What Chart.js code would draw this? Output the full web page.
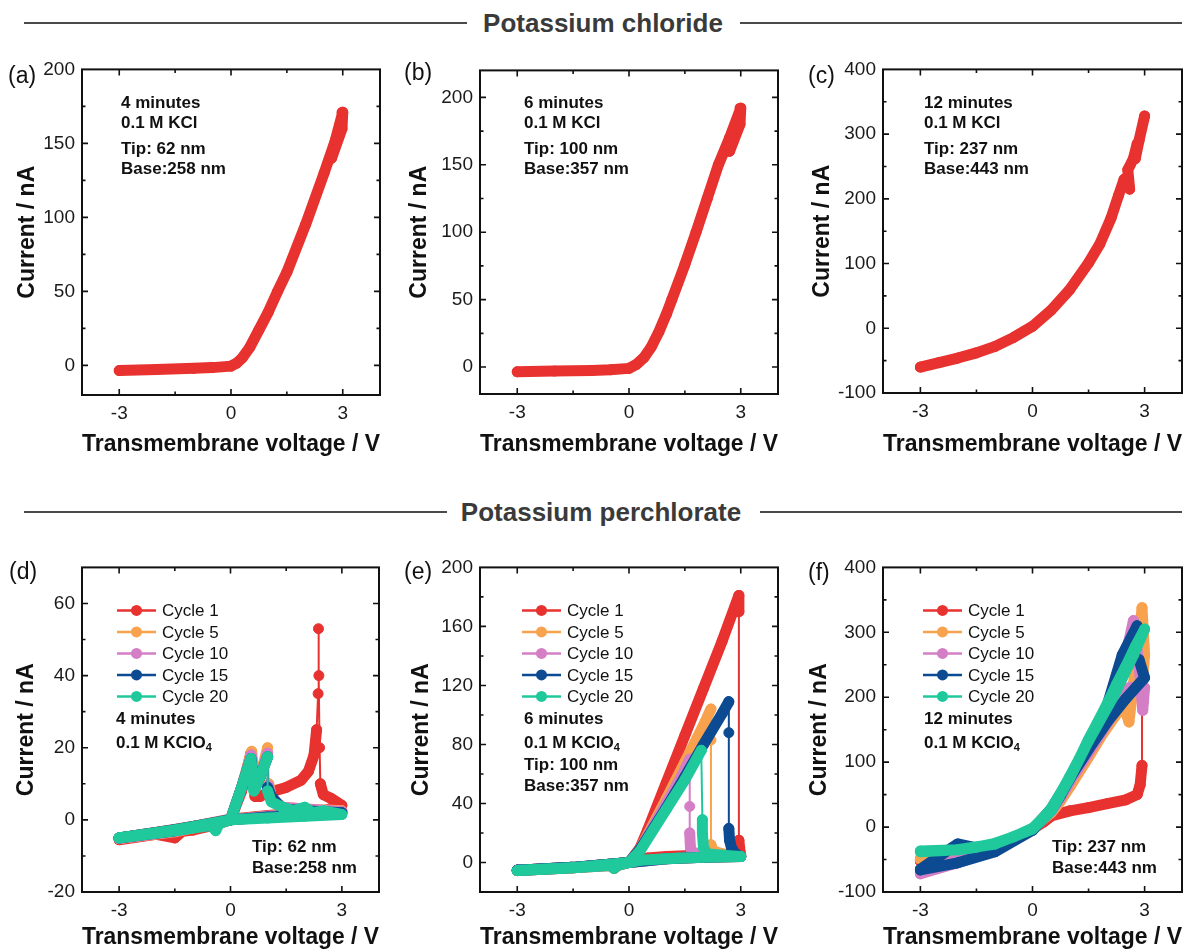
<!DOCTYPE html>
<html>
<head>
<meta charset="utf-8">
<title>Potassium chloride / perchlorate I-V curves</title>
<script src="https://cdn.jsdelivr.net/npm/chart.js@4.4.1/dist/chart.umd.min.js"></script>
<style>
  html, body { margin: 0; padding: 0; background: #fff; overflow: hidden; width: 1193px; height: 950px; }
  body { position: relative; font-family: "Liberation Sans", Arial, sans-serif; color: #111; }
  .panel { position: absolute; }
  .rule { position: absolute; height: 2px; background: #4a4a4a; }
  .hdr { position: absolute; width: 400px; text-align: center; font-weight: bold; font-size: 26px; line-height: 30px; color: #3a3a3a; }
  .tag { position: absolute; font-size: 23px; line-height: 26px; }
  .note { position: absolute; font-weight: bold; font-size: 17px; line-height: 20px; white-space: nowrap; }
  .note sub { font-size: 11px; vertical-align: -3px; }
</style>
</head>
<body>

<div class="rule" style="left:24px; top:22px; width:443px;"></div>
<div class="hdr" style="left:403px; top:8px;">Potassium chloride</div>
<div class="rule" style="left:740px; top:22px; width:442px;"></div>

<div class="rule" style="left:24px; top:511px; width:423px;"></div>
<div class="hdr" style="left:401px; top:497px;">Potassium perchlorate</div>
<div class="rule" style="left:760px; top:511px; width:422px;"></div>

<div id="panels"></div>

<script>
// ---- data ----
const xTicks = [-3, 0, 3];

// (a) 4 minutes, 0.1 M KCl
const aYTicks = [0, 50, 100, 150, 200];
const aVolt = [-3, -2, -1, -0.5, 0, 0.15, 0.3, 0.5, 0.75, 1, 1.25, 1.5, 2, 2.5, 2.8, 3, 2.98, 2.7];
const aCur  = [-3.5, -2.8, -2, -1.5, -0.5, 1.5, 5, 12, 24, 36, 50, 63, 95, 130, 152, 171, 160, 140];

// (b) 6 minutes, 0.1 M KCl
const bYTicks = [0, 50, 100, 150, 200];
const bVolt = [-3, -2, -1, -0.5, 0, 0.2, 0.4, 0.6, 0.8, 1, 1.15, 1.5, 1.8, 2.1, 2.4, 2.7, 3, 2.98, 2.7];
const bCur  = [-3.5, -3, -2.5, -2, -1, 2, 7, 15, 26, 39, 50, 76, 100, 125, 150, 170, 192, 180, 160];

// (c) 12 minutes, 0.1 M KCl
const cYTicks = [-100, 0, 100, 200, 300, 400];
const cVolt = [-3, -2.5, -2, -1.5, -1, -0.5, 0, 0.5, 1, 1.5, 1.8, 2.1, 2.3, 2.45, 2.55, 2.6, 2.55, 2.7, 2.8, 2.75, 2.85, 3];
const cCur  = [-60, -53, -46, -38, -28, -14, 3, 28, 60, 101, 130, 170, 205, 230, 235, 215, 245, 262, 285, 262, 290, 328];

// cycle labels and colours
const cycles = ["Cycle 1", "Cycle 5", "Cycle 10", "Cycle 15", "Cycle 20"];
const cycleColors = ["#e8322f", "#f8a24e", "#d47ec6", "#0c4a92", "#20c99c"];

// (d) 4 minutes, 0.1 M KClO4
const dYTicks = [-20, 0, 20, 40, 60];
const dV1  = [-3, -2, -1.5, -1.3, -1, -0.5, 0, 0.3, 0.55, 0.66, 0.8, 1.0, 1.5, 1.9, 2.1, 2.25, 2.32, 2.36, 2.37, 2.38, 2.4, 2.42, 2.5, 2.7, 3, 2.5, 2, 1, 0, -1, -2, -3];
const dI1  = [-5.5, -4, -5, -3.2, -2.8, -1.6, 0, 8, 18.5, 6.5, 6.5, 7.5, 9, 11, 13.5, 18, 25, 35, 53, 40, 20, 10, 7, 6, 4, 2.5, 2, 1.2, 0.2, -1.8, -3.5, -5];
const dV5  = [-3, -1.5, 0, 0.3, 0.57, 0.66, 0.8, 1.0, 1.03, 1.1, 1.4, 2, 3, 2, 1, 0, -1.5, -3];
const dI5  = [-5.2, -3.3, 0, 9, 19, 9, 12, 20, 10, 6, 3.5, 3, 2.5, 1.5, 1, 0, -2.7, -5];
const dV10 = [-3, -1.5, 0, 0.3, 0.56, 0.65, 0.8, 1.0, 1.02, 1.1, 1.4, 2, 3, 2, 1, 0, -1.5, -3];
const dI10 = [-5.2, -3.2, 0, 9, 18, 8.5, 12, 18.5, 9.5, 6, 3.5, 3, 2.3, 1.5, 1, 0, -2.8, -5.1];
const dV15 = [-3, -1.5, 0, 0.3, 0.55, 0.64, 0.8, 1.0, 1.0, 1.1, 1.4, 2, 3, 2, 1, 0, -1.5, -3];
const dI15 = [-5, -3, 0, 9, 17, 8.5, 12, 17.5, 9, 6.5, 3, 2.5, 2, 1.2, 0.8, 0, -2.7, -5];
const dV20 = [-3, -1.5, -0.5, -0.4, -0.3, 0, 0.3, 0.55, 0.63, 0.8, 1.0, 1.0, 1.1, 1.4, 1.7, 2.0, 2.2, 2.5, 3, 2, 1, 0, -1.5, -3];
const dI20 = [-5, -3, -1.5, -3, -1, 0, 9, 17, 8, 12, 17.5, 8, 5, 3.5, 2.5, 3.5, 2, 2.5, 1.5, 1, 0.5, 0, -2.8, -5];

// (e) 6 minutes, 0.1 M KClO4
const eYTicks = [0, 40, 80, 120, 160, 200];
const eV1  = [-3, -1.5, -0.5, -0.4, -0.3, 0, 0.3, 0.5, 1, 1.5, 2, 2.5, 2.95, 2.95, 2.95, 2.97, 3, 2.5, 2, 1, 0.5, 0, -1.5, -3];
const eI1  = [-5.5, -3.5, -2, -4, -2, 0, 10, 22, 54, 86, 118, 150, 181, 170, 15, 10, 5, 5.5, 5, 4, 3, 0, -3.5, -5.5];
const eV5  = [-3, -1.5, 0, 0.3, 1, 1.5, 2, 2.2, 2.2, 2.2, 2.25, 2.5, 3, 2, 1, 0, -1.5, -3];
const eI5  = [-5.2, -3.3, 0, 9, 43, 68, 93, 104, 83, 12, 8, 6, 4, 3.5, 2.5, 0, -3.3, -5.2];
const eV10 = [-3, -1.5, 0, 0.3, 1, 1.4, 1.63, 1.63, 1.63, 1.65, 1.7, 2, 3, 2, 1, 0, -1.5, -3];
const eI10 = [-5.2, -3.3, 0, 9, 40, 58, 70, 38, 20, 10, 7, 5, 4, 3.5, 2.5, 0, -3.3, -5.2];
const eV15 = [-3, -1.5, 0, 0.3, 1, 1.5, 2, 2.5, 2.68, 2.68, 2.68, 2.7, 2.75, 2.85, 3, 2, 1, 0, -1.5, -3];
const eI15 = [-5.2, -3.3, 0, 9, 37, 58, 80, 101, 109, 88, 23, 15, 10, 6, 4, 3.5, 2.5, 0, -3.3, -5.2];
const eV20 = [-3, -1.5, -0.5, -0.4, -0.3, 0, 0.3, 1, 1.5, 1.94, 1.97, 1.97, 2.0, 2.1, 2.5, 3, 2, 1, 0.3, 0, -1.5, -3];
const eI20 = [-5.5, -3.5, -2, -4, -2, 0, 8, 36, 56, 76, 29, 20, 10, 6, 5, 4, 3.5, 2.5, 1.5, 0, -3.5, -5.5];

// (f) 12 minutes, 0.1 M KClO4
const fYTicks = [-100, 0, 100, 200, 300, 400];
const fV1  = [-3, -2, -1, -0.5, 0, 0.3, 0.5, 1, 1.5, 2, 2.5, 2.8, 2.88, 2.93, 2.93, 2.7, 2.3, 1.9, 1.5, 1, 0.75, 0.5, 0.25, 0, -1, -2, -3];
const fI1  = [-52, -42, -28, -16, -3, 8, 17, 25, 30, 36, 42, 50, 65, 95, 320, 280, 215, 160, 120, 68, 46, 26, 12, -4, -30, -42, -52];
const fV5  = [-3, -2, -1, -0.5, 0, 0.25, 0.5, 0.75, 1, 1.5, 2, 2.4, 2.58, 2.7, 2.85, 2.93, 3, 2.95, 2.6, 2.2, 1.5, 1, 0.5, 0, -1, -2, -3];
const fI5  = [-48, -38, -27, -16, -2, 10, 22, 40, 62, 108, 155, 195, 162, 220, 290, 338, 265, 230, 200, 170, 112, 66, 24, -4, -30, -42, -50];
const fV10 = [-3, -2, -1, -0.5, 0, 0.25, 0.5, 0.75, 1, 1.5, 2, 2.4, 2.7, 2.85, 2.95, 3, 2.6, 2, 1.5, 1, 0.5, 0, -1, -2, -3];
const fI10 = [-70, -50, -32, -18, -3, 11, 24, 45, 70, 125, 180, 240, 318, 250, 180, 215, 215, 160, 115, 70, 25, -4, -35, -55, -72];
const fV15 = [-3, -2.5, -2, -1.5, -1, -0.5, 0, 0.25, 0.5, 0.75, 1, 1.5, 2, 2.4, 2.8, 2.85, 3, 2.5, 2, 1.5, 1, 0.5, 0, -1, -2, -3];
const fI15 = [-65, -45, -26, -32, -27, -17, -3, 11, 26, 49, 75, 130, 188, 265, 310, 258, 230, 198, 162, 120, 75, 28, -5, -38, -55, -66];
const fV20 = [-3, -2, -1.5, -1, -0.5, 0, 0.25, 0.5, 0.75, 1, 1.25, 1.5, 1.75, 2, 2.25, 2.5, 2.75, 3, 2.7, 2.2, 1.5, 1, 0.5, 0, -1, -2, -3];
const fI20 = [-37, -35, -31, -25, -15, -2, 12, 28, 52, 78, 105, 135, 162, 190, 220, 248, 278, 305, 265, 205, 133, 76, 25, -3, -26, -35, -38];

const FONT = "'Liberation Sans', Arial, sans-serif";

// thin line where the current jumps (near-vertical long segment), thick marker band elsewhere
const jumpWidth = c => (Math.abs(c.p1.x - c.p0.x) < 2 && Math.abs(c.p1.y - c.p0.y) > 25) ? 2 : 11;

// Frame + inward ticks on all four sides
const framePlugin = {
    id: "frame",
    afterDatasetsDraw(chart) {
        const { ctx, chartArea: a, scales } = chart;
        const sx = scales.x, sy = scales.y;
        ctx.save();
        ctx.strokeStyle = "#111";
        ctx.lineWidth = 2;
        ctx.strokeRect(a.left, a.top, a.right - a.left, a.bottom - a.top);
        ctx.lineWidth = 1.6;
        const drawTicks = (scale, horiz) => {
            const vals = scale.ticks.map(t => t.value);
            const major = vals[1] - vals[0];
            const minor = major / 2;
            const k0 = Math.ceil(scale.min / minor), k1 = Math.floor(scale.max / minor);
            for (let k = k0; k <= k1; k++) {
                const v = k * minor;
                const p = scale.getPixelForValue(v);
                const isMajor = Math.abs(v / major - Math.round(v / major)) < 1e-6;
                const len = isMajor ? 6 : 3.5;
                if (horiz) {
                    if (p <= a.left + 1 || p >= a.right - 1) continue;
                    ctx.beginPath();
                    ctx.moveTo(p, a.bottom); ctx.lineTo(p, a.bottom - len);
                    ctx.moveTo(p, a.top); ctx.lineTo(p, a.top + len);
                    ctx.stroke();
                } else {
                    if (p <= a.top + 1 || p >= a.bottom - 1) continue;
                    ctx.beginPath();
                    ctx.moveTo(a.left, p); ctx.lineTo(a.left + len, p);
                    ctx.moveTo(a.right, p); ctx.lineTo(a.right - len, p);
                    ctx.stroke();
                }
            }
        };
        drawTicks(sx, true);
        drawTicks(sy, false);
        ctx.restore();
    }
};

// Legend: line with a round marker, drawn inside the plot
const cycleLegend = {
    id: "cycleLegend",
    afterDraw(chart, args, opts) {
        if (!opts.show) return;
        const { ctx, chartArea: a } = chart;
        ctx.save();
        ctx.font = "17px " + FONT;
        ctx.textBaseline = "middle";
        chart.data.datasets.forEach((ds, i) => {
            const x0 = a.left + opts.dx;
            const y = a.top + 43 + i * 21.5;
            ctx.strokeStyle = ds.borderColor;
            ctx.lineWidth = 2.5;
            ctx.beginPath();
            ctx.moveTo(x0, y); ctx.lineTo(x0 + 39, y);
            ctx.stroke();
            ctx.fillStyle = ds.borderColor;
            ctx.beginPath();
            ctx.arc(x0 + 19.5, y, 5.5, 0, Math.PI * 2);
            ctx.fill();
            ctx.fillStyle = "#111";
            ctx.fillText(ds.label, x0 + 45, y + 1);
        });
        ctx.restore();
    }
};

function series(label, color, volts, cur) {
    return { label, color, pts: volts.map((v, k) => ({ x: v, y: cur[k] })) };
}

const panels = [
    { id: "a", L: 82, R: 380, T: 63, B: 395, yMin: -20, yMax: 200, yTicks: aYTicks, yTitleOff: 54, xTitleOff: 50,
      series: [series("KCl", cycleColors[0], aVolt, aCur)], legend: false },
    { id: "b", L: 480, R: 778, T: 64, B: 394, yMin: -20, yMax: 220, yTicks: bYTicks, yTitleOff: 60, xTitleOff: 51,
      series: [series("KCl", cycleColors[0], bVolt, bCur)], legend: false },
    { id: "c", L: 883, R: 1182, T: 63, B: 393, yMin: -100, yMax: 400, yTicks: cYTicks, yTitleOff: 60, xTitleOff: 52,
      series: [series("KCl", cycleColors[0], cVolt, cCur)], legend: false },
    { id: "d", L: 82, R: 379, T: 561, B: 892, yMin: -20, yMax: 70, yTicks: dYTicks, yTitleOff: 55, xTitleOff: 46,
      series: [series(cycles[0], cycleColors[0], dV1, dI1), series(cycles[1], cycleColors[1], dV5, dI5),
               series(cycles[2], cycleColors[2], dV10, dI10), series(cycles[3], cycleColors[3], dV15, dI15),
               series(cycles[4], cycleColors[4], dV20, dI20)], legend: true, legendDx: 35 },
    { id: "e", L: 480, R: 778, T: 561, B: 892, yMin: -20, yMax: 200, yTicks: eYTicks, yTitleOff: 58, xTitleOff: 46,
      series: [series(cycles[0], cycleColors[0], eV1, eI1), series(cycles[1], cycleColors[1], eV5, eI5),
               series(cycles[2], cycleColors[2], eV10, eI10), series(cycles[3], cycleColors[3], eV15, eI15),
               series(cycles[4], cycleColors[4], eV20, eI20)], legend: true, legendDx: 42 },
    { id: "f", L: 883, R: 1182, T: 561, B: 892, yMin: -100, yMax: 400, yTicks: fYTicks, yTitleOff: 63, xTitleOff: 46,
      series: [series(cycles[0], cycleColors[0], fV1, fI1), series(cycles[1], cycleColors[1], fV5, fI5),
               series(cycles[2], cycleColors[2], fV10, fI10), series(cycles[3], cycleColors[3], fV15, fI15),
               series(cycles[4], cycleColors[4], fV20, fI20)], legend: true, legendDx: 40 },
];

const AXIS_W = 82, AXIS_H = 70, PAD_T = 12, PAD_R = 14, TITLE_LH = 23.5 * 1.2;

const holder = document.getElementById("panels");
panels.forEach(p => {
    const box = document.createElement("div");
    box.className = "panel";
    box.style.left = (p.L - AXIS_W) + "px";
    box.style.top = (p.T - PAD_T) + "px";
    const cv = document.createElement("canvas");
    cv.width = p.R - p.L + AXIS_W + PAD_R;
    cv.height = p.B - p.T + PAD_T + AXIS_H;
    box.appendChild(cv);
    holder.appendChild(box);

    const n = p.series.length;
    new Chart(cv, {
        type: "scatter",
        data: {
            datasets: p.series.map((s, i) => ({
                label: s.label,
                data: s.pts,
                showLine: true,
                borderColor: s.color,
                backgroundColor: s.color,
                pointBackgroundColor: s.color,
                pointBorderColor: s.color,
                pointRadius: 5,
                pointBorderWidth: 1,
                borderWidth: 11,
                borderCapStyle: "round",
                borderJoinStyle: "round",
                tension: 0,
                order: n - 1 - i,
                segment: { borderWidth: jumpWidth }
            }))
        },
        options: {
            responsive: false,
            animation: false,
            events: [],
            layout: { padding: { top: PAD_T, right: PAD_R, left: 0, bottom: 0 } },
            scales: {
                x: {
                    type: "linear",
                    min: -4, max: 4,
                    afterBuildTicks: sc => { sc.ticks = xTicks.map(v => ({ value: v })); },
                    afterFit: sc => { sc.height = AXIS_H; },
                    grid: { display: false, drawTicks: false },
                    border: { display: false },
                    ticks: { font: { family: FONT, size: 19 }, color: "#1a1a1a", padding: 7, maxRotation: 0, autoSkip: false },
                    title: {
                        display: true, text: "Transmembrane voltage / V", color: "#111",
                        font: { family: FONT, size: 23.5, weight: "bold" },
                        padding: { top: 0, bottom: AXIS_H - p.xTitleOff - TITLE_LH / 2 }
                    }
                },
                y: {
                    type: "linear",
                    min: p.yMin, max: p.yMax,
                    afterBuildTicks: sc => { sc.ticks = p.yTicks.map(v => ({ value: v })); },
                    afterFit: sc => { sc.width = AXIS_W; },
                    grid: { display: false, drawTicks: false },
                    border: { display: false },
                    ticks: { font: { family: FONT, size: 19 }, color: "#1a1a1a", padding: 7, autoSkip: false },
                    title: {
                        display: true, text: "Current / nA", color: "#111",
                        font: { family: FONT, size: 23, weight: "bold" },
                        padding: { top: AXIS_W - p.yTitleOff - 23 * 1.2 / 2, bottom: 0 }
                    }
                }
            },
            plugins: {
                legend: { display: false },
                tooltip: { enabled: false },
                cycleLegend: { show: p.legend, dx: p.legendDx || 0 }
            }
        },
        plugins: [framePlugin, cycleLegend]
    });
});

// panel tags and in-plot notes
const tags = [["(a)", 8, 62], ["(b)", 404, 59], ["(c)", 808, 62], ["(d)", 9, 558], ["(e)", 404, 558], ["(f)", 808, 559]];
tags.forEach(([t, x, y]) => {
    const d = document.createElement("div");
    d.className = "tag"; d.textContent = t;
    d.style.left = x + "px"; d.style.top = y + "px";
    document.body.appendChild(d);
});

const notes = [
    ["4 minutes", 121, 103], ["0.1 M KCl", 121, 123], ["Tip: 62 nm", 121, 149], ["Base:258 nm", 121, 169],
    ["6 minutes", 524, 103], ["0.1 M KCl", 524, 123], ["Tip: 100 nm", 524, 149], ["Base:357 nm", 524, 169],
    ["12 minutes", 924, 103], ["0.1 M KCl", 924, 123], ["Tip: 237 nm", 924, 149], ["Base:443 nm", 924, 169],
    ["4 minutes", 116, 719], ["0.1 M KClO<sub>4</sub>", 116, 743], ["Tip: 62 nm", 252, 847], ["Base:258 nm", 252, 868],
    ["6 minutes", 524, 719], ["0.1 M KClO<sub>4</sub>", 524, 743], ["Tip: 100 nm", 524, 765], ["Base:357 nm", 524, 786],
    ["12 minutes", 924, 719], ["0.1 M KClO<sub>4</sub>", 924, 743], ["Tip: 237 nm", 1052, 847], ["Base:443 nm", 1052, 868]
];
notes.forEach(([t, x, y]) => {
    const d = document.createElement("div");
    d.className = "note"; d.innerHTML = t;
    d.style.left = x + "px"; d.style.top = (y - 10) + "px";
    document.body.appendChild(d);
});
</script>
</body>
</html>
